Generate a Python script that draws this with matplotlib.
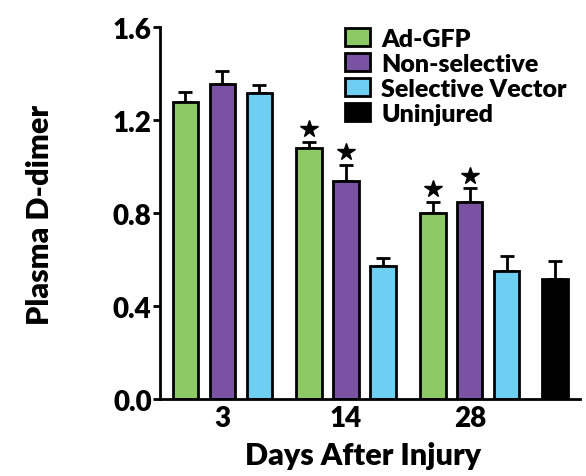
import matplotlib
matplotlib.use("Agg")
import matplotlib.pyplot as plt
from matplotlib.patches import Patch

plt.rcParams['font.family'] = ['Lato', 'DejaVu Sans']
plt.rcParams['font.weight'] = 'bold'

groups = ["3", "14", "28"]
series = ["Ad-GFP", "Non-selective", "Selective Vector"]
colors = ["#8dc963", "#7a52a3", "#6fcff3"]
values = {
    "Ad-GFP": [1.277, 1.08, 0.80],
    "Non-selective": [1.355, 0.937, 0.847],
    "Selective Vector": [1.316, 0.572, 0.55],
}
errors = {
    "Ad-GFP": [0.045, 0.025, 0.05],
    "Non-selective": [0.055, 0.069, 0.06],
    "Selective Vector": [0.034, 0.034, 0.065],
}
stars = {
    "Ad-GFP": [False, True, True],
    "Non-selective": [False, True, True],
    "Selective Vector": [False, False, False],
}
uninjured_value = 0.516
uninjured_error = 0.078

fig = plt.figure(figsize=(5.86, 4.77), dpi=100)
ax = fig.add_axes([0.273, 0.161, 0.717, 0.780])

group_centers = [0.0, 3.35, 6.7]
offsets = [-1, 0, 1]
width = 0.68
for s, col, off in zip(series, colors, offsets):
    xs = [c + off for c in group_centers]
    ax.bar(xs, values[s], width=width, color=col, edgecolor='black', linewidth=2, zorder=2)
    ax.errorbar(xs, values[s], yerr=[[0]*3, errors[s]], fmt='none', ecolor='black',
                elinewidth=2, capsize=5, capthick=2, zorder=1)
    for x, v, e, st in zip(xs, values[s], errors[s], stars[s]):
        if st:
            ax.plot(x, v + e + 0.055, marker='*', color='black', markersize=13, zorder=3)

ux = 9.0
ax.bar([ux], [uninjured_value], width=width, color='black', edgecolor='black', linewidth=2, zorder=2)
ax.errorbar([ux], [uninjured_value], yerr=[[0], [uninjured_error]], fmt='none', ecolor='black',
            elinewidth=2, capsize=5, capthick=2, zorder=1)

ax.set_xlim(-1.68, 9.68)
ax.set_ylim(0, 1.6)
ax.set_yticks([0.0, 0.4, 0.8, 1.2, 1.6])
ax.set_yticklabels(["0.0", "0.4", "0.8", "1.2", "1.6"])
ax.set_xticks(group_centers)
ax.set_xticklabels(groups)
ax.tick_params(axis='x', length=0, labelsize=20, pad=4)
ax.tick_params(axis='y', length=5, width=2, labelsize=20, pad=1)
for lab in ax.get_xticklabels() + ax.get_yticklabels():
    lab.set_fontweight('heavy')
for sp in ['top', 'right']:
    ax.spines[sp].set_visible(False)
ax.spines['left'].set_linewidth(2)
ax.spines['bottom'].set_linewidth(2)

fig.text(0.619, 0.025, "Days After Injury", fontsize=22, fontweight='heavy',
         ha='center', va='baseline')
fig.text(0.068, 0.55, "Plasma D-dimer", rotation=90, fontsize=22, fontweight='heavy',
         ha='center', va='center')

handles = [Patch(facecolor=c, edgecolor='black', linewidth=2) for c in colors + ['black']]
labels = series + ["Uninjured"]
leg = ax.legend(handles, labels, loc='upper left', bbox_to_anchor=(0.416, 1.025), frameon=False,
                prop={'weight': 'heavy', 'size': 18}, handlelength=1.0, handleheight=0.75,
                labelspacing=0.12, handletextpad=0.45, borderaxespad=0)

fig.savefig("out.png", dpi=100)
